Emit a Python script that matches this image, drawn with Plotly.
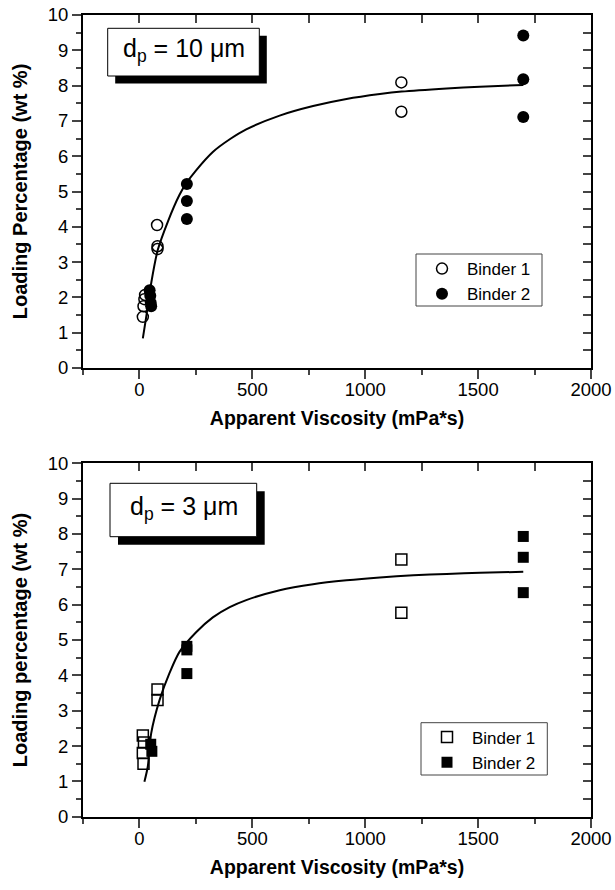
import plotly.graph_objects as go

# ---------------- data ----------------
# top panel, d_p = 10 um
top_b1_x = [15, 18, 22, 25, 78, 80, 80, 1160, 1160]
top_b1_y = [1.45, 1.75, 1.95, 2.07, 4.05, 3.45, 3.37, 8.09, 7.26]
top_b2_x = [45, 48, 50, 52, 210, 210, 210, 1700, 1700, 1700]
top_b2_y = [2.2, 2.05, 1.85, 1.75, 5.21, 4.73, 4.22, 9.42, 8.18, 7.11]
top_fit_x = [15, 30, 52, 81, 126, 177, 207, 251, 325, 400, 473, 621, 769, 917, 1065, 1161, 1361, 1508, 1700]
top_fit_y = [0.84, 1.45, 2.4, 3.34, 4.15, 4.9, 5.23, 5.6, 6.12, 6.48, 6.76, 7.15, 7.42, 7.62, 7.76, 7.83, 7.92, 7.97, 8.02]

# bottom panel, d_p = 3 um
bot_b1_x = [15, 20, 15, 18, 80, 80, 1160, 1160]
bot_b1_y = [2.3, 2.1, 1.8, 1.5, 3.6, 3.3, 7.28, 5.77]
bot_b2_x = [50, 55, 210, 210, 210, 1700, 1700, 1700]
bot_b2_y = [2.05, 1.85, 4.82, 4.72, 4.05, 7.93, 7.34, 6.34]
bot_fit_x = [22, 37, 52, 89, 133, 178, 251, 325, 400, 473, 621, 769, 917, 1065, 1213, 1361, 1508, 1700]
bot_fit_y = [0.99, 1.42, 2.36, 3.3, 4.06, 4.67, 5.22, 5.64, 5.93, 6.13, 6.41, 6.58, 6.69, 6.77, 6.83, 6.87, 6.9, 6.93]

x_ticks = [0, 500, 1000, 1500, 2000]
y_ticks = [0, 1, 2, 3, 4, 5, 6, 7, 8, 9, 10]
x_title = "Apparent Viscosity (mPa*s)"
top_y_title = "Loading Percentage (wt %)"
bot_y_title = "Loading percentage (wt %)"
top_label = "d<sub>p</sub> = 10 \u03bcm"
bot_label = "d<sub>p</sub> = 3 \u03bcm"
legend_names = ["Binder 1", "Binder 2"]

# ---------------- layout geometry ----------------
W, H = 615, 890
ML, MR, MT, MB = 83, 24, 15, 73
PW, PH = W - ML - MR, H - MT - MB

def px(x):
    return (x - ML) / PW

def py(y):
    return 1 - (y - MT) / PH

FONT = "Liberation Sans, Arial, sans-serif"

fig = go.Figure()

line_style = dict(color="black", width=2)

# top panel
fig.add_trace(go.Scatter(x=top_fit_x, y=top_fit_y, mode="lines", line=dict(**line_style, shape="spline", smoothing=0.8),
                         showlegend=False, xaxis="x", yaxis="y"))
fig.add_trace(go.Scatter(x=top_b1_x, y=top_b1_y, mode="markers", name=legend_names[0],
                         marker=dict(symbol="circle-open", size=11, color="black", line=dict(width=1.5)),
                         xaxis="x", yaxis="y", legend="legend"))
fig.add_trace(go.Scatter(x=top_b2_x, y=top_b2_y, mode="markers", name=legend_names[1],
                         marker=dict(symbol="circle", size=12, color="black"),
                         xaxis="x", yaxis="y", legend="legend"))

# bottom panel
fig.add_trace(go.Scatter(x=bot_fit_x, y=bot_fit_y, mode="lines", line=dict(**line_style, shape="spline", smoothing=0.8),
                         showlegend=False, xaxis="x2", yaxis="y2"))
fig.add_trace(go.Scatter(x=bot_b1_x, y=bot_b1_y, mode="markers", name=legend_names[0],
                         marker=dict(symbol="square-open", size=11, color="black", line=dict(width=1.5)),
                         xaxis="x2", yaxis="y2", legend="legend2"))
fig.add_trace(go.Scatter(x=bot_b2_x, y=bot_b2_y, mode="markers", name=legend_names[1],
                         marker=dict(symbol="square", size=11, color="black"),
                         xaxis="x2", yaxis="y2", legend="legend2"))

top_dom = [py(368), py(15)]
bot_dom = [py(816.7), py(463.3)]

tickfont = dict(family=FONT, size=18.5, color="black")
xtitlefont = dict(family=FONT, size=19.5, color="black")
ytitlefont = dict(family=FONT, size=20, color="black")

def xmain(dom_anchor):
    return dict(range=[-250, 2000], tickvals=x_ticks, ticks="outside", ticklen=9, tickwidth=1.5,
                showline=True, linecolor="black", linewidth=2, showgrid=False, zeroline=False,
                tickfont=tickfont, anchor=dom_anchor, ticklabelstandoff=-5, automargin=False,
                minor=dict(dtick=250, ticks="outside", ticklen=5, tickwidth=1.5, tick0=0),
                title=dict(text="<b>" + x_title + "</b>", font=xtitlefont, standoff=12))

def ymain(domain, anchor, title):
    return dict(range=[0, 10], tickvals=y_ticks, ticks="outside", ticklen=9, tickwidth=1.5,
                showline=True, linecolor="black", linewidth=2, showgrid=False, zeroline=False,
                tickfont=tickfont, domain=domain, anchor=anchor, automargin=False,
                minor=dict(dtick=0.5, ticks="outside", ticklen=5, tickwidth=1.5, tick0=0),
                title=dict(text="<b>" + title + "</b>", font=ytitlefont, standoff=15))

def xmirror(overlay, anchor):
    return dict(range=[-250, 2000], overlaying=overlay, side="top", anchor=anchor, dtick=250, tick0=0,
                ticks="inside", ticklen=8, tickwidth=1.5, showticklabels=False, showline=True,
                linecolor="black", linewidth=2, showgrid=False, zeroline=False, automargin=False)

def ymirror(overlay, anchor, domain):
    return dict(range=[0, 10], overlaying=overlay, side="right", anchor=anchor, dtick=0.5, tick0=0,
                ticks="inside", ticklen=8, tickwidth=1.5, showticklabels=False, showline=True,
                linecolor="black", linewidth=2, showgrid=False, zeroline=False, domain=domain,
                automargin=False)

legfont = dict(family=FONT, size=17, color="black")

fig.update_layout(
    width=W, height=H,
    margin=dict(l=ML, r=MR, t=MT, b=MB, autoexpand=False),
    plot_bgcolor="white", paper_bgcolor="white",
    font=dict(family=FONT, color="black"),
    xaxis=xmain("y"),
    yaxis=ymain(top_dom, "x", top_y_title),
    xaxis2=xmain("y2"),
    yaxis2=ymain(bot_dom, "x2", bot_y_title),
    xaxis3=xmirror("x", "y"),
    yaxis3=ymirror("y", "x", top_dom),
    xaxis4=xmirror("x2", "y2"),
    yaxis4=ymirror("y2", "x2", bot_dom),
    legend=dict(x=px(417), y=py(251), xanchor="left", yanchor="top", bgcolor="rgba(0,0,0,0)",
                borderwidth=0, font=legfont, itemwidth=40, tracegroupgap=0),
    legend2=dict(x=px(422), y=py(719.5), xanchor="left", yanchor="top", bgcolor="rgba(0,0,0,0)",
                 borderwidth=0, font=legfont, itemwidth=40, tracegroupgap=0),
)

# dummy traces so mirror axes render
fig.add_trace(go.Scatter(x=[None], y=[None], xaxis="x3", yaxis="y3", showlegend=False))
fig.add_trace(go.Scatter(x=[None], y=[None], xaxis="x4", yaxis="y4", showlegend=False))

shapes = []
# legend frames
for (x0, y0, x1, y1) in [(416, 254, 542, 306), (421, 722.7, 547.3, 775)]:
    shapes.append(dict(type="rect", xref="paper", yref="paper",
                       x0=px(x0), x1=px(x1), y0=py(y1), y1=py(y0),
                       fillcolor="white", line=dict(color="#444", width=1)))
# label boxes with drop shadows
for (x0, y0, x1, y1, sh) in [(107.7, 28.3, 259.3, 76, 7.5), (110, 483.3, 256.7, 536.7, 8)]:
    shapes.append(dict(type="rect", xref="paper", yref="paper",
                       x0=px(x0 + sh), x1=px(x1 + sh), y0=py(y1 + sh), y1=py(y0 + sh),
                       fillcolor="black", line=dict(width=0)))
    shapes.append(dict(type="rect", xref="paper", yref="paper",
                       x0=px(x0), x1=px(x1), y0=py(y1), y1=py(y0),
                       fillcolor="white", line=dict(color="black", width=1)))
fig.update_layout(shapes=shapes)

fig.add_annotation(x=px(183.5), y=py(50), xref="paper", yref="paper", text=top_label, showarrow=False,
                   font=dict(family=FONT, size=25, color="black"), xanchor="center", yanchor="middle")
fig.add_annotation(x=px(183.5), y=py(508), xref="paper", yref="paper", text=bot_label, showarrow=False,
                   font=dict(family=FONT, size=25, color="black"), xanchor="center", yanchor="middle")

fig.write_html("out.html")
